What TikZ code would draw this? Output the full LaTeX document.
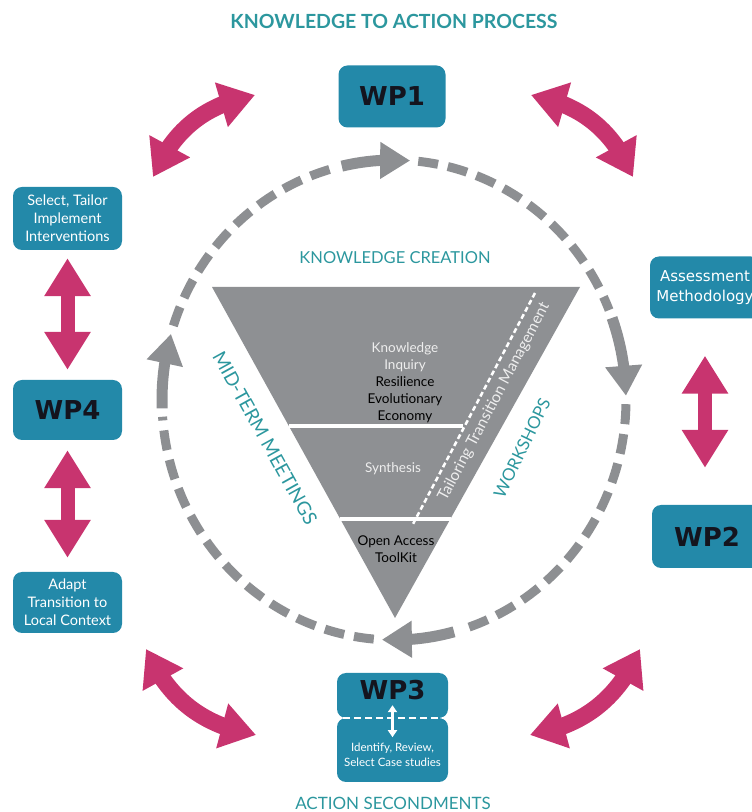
\documentclass[tikz,border=0pt]{standalone}
\usepackage{fontspec}
\setmainfont{Lato}
\newfontfamily\wpfont{DejaVu Sans}
\usetikzlibrary{arrows.meta,bending,calc}
\definecolor{boxteal}{HTML}{2389A9}
\definecolor{titleteal}{HTML}{2C979E}
\definecolor{mag}{HTML}{C8346F}
\definecolor{cgray}{HTML}{8D8F92}
\definecolor{tgray}{HTML}{8E9093}
\definecolor{wpdark}{HTML}{14141E}
\definecolor{lightw}{HTML}{EEEEEE}
\begin{document}
\begin{tikzpicture}[x=1pt,y=1pt,
  tealbox/.style={fill=boxteal, rounded corners=9pt, inner sep=0pt, align=center, text=white, font=\fontsize{14.5}{18}\selectfont},
  wplabel/.style={font=\wpfont\bfseries\fontsize{26}{26}\selectfont, text=wpdark},
  magarrow/.style={draw=mag, line width=17pt, {Triangle[width=44pt,length=35pt]}-{Triangle[width=44pt,length=35pt]}},
  vertarrow/.style={draw=mag, line width=14pt, {Triangle[width=44pt,length=38pt]}-{Triangle[width=44pt,length=38pt]}},
  cyclearrow/.style={draw=cgray, line width=11pt, -{Triangle[width=35pt,length=30pt]}},
  cycledash/.style={draw=cgray, line width=9pt, dash pattern=on 20pt off 10pt},
  tealtext/.style={text=titleteal, font=\fontsize{16.5}{16.5}\selectfont},
  tritext/.style={font=\fontsize{13.5}{17}\selectfont, align=center}
]
\useasboundingbox (0,0) rectangle (752,812);

% title and bottom caption
\node[text=titleteal, font=\bfseries\fontsize{19.5}{19.5}\selectfont] (title) at (394,791) {KNOWLEDGE TO ACTION PROCESS};
\node[text=titleteal, font=\fontsize{17}{17}\selectfont] (secon) at (393,9) {ACTION SECONDMENTS};

% gray cycle
\coordinate (C) at (394,412);
\draw[cycledash] ($(C)+(84:232 and 240)$) arc[start angle=84, end angle=22, x radius=232pt, y radius=240pt];
\draw[cycledash] ($(C)+(-1:232 and 240)$) arc[start angle=-1, end angle=-73, x radius=232pt, y radius=240pt];
\draw[cycledash] ($(C)+(265:232 and 240)$) arc[start angle=265, end angle=184, x radius=232pt, y radius=240pt];
\draw[cycledash] ($(C)+(162:232 and 240)$) arc[start angle=162, end angle=105, x radius=232pt, y radius=240pt];
\draw[cyclearrow] ($(C)+(103:232 and 240)$) arc[start angle=103, end angle=86, x radius=232pt, y radius=240pt];
\draw[cyclearrow] ($(C)+(20:232 and 240)$) arc[start angle=20, end angle=1, x radius=232pt, y radius=240pt];
\draw[cyclearrow] ($(C)+(285:232 and 240)$) arc[start angle=285, end angle=267, x radius=232pt, y radius=240pt];
\draw[cyclearrow] ($(C)+(182:232 and 240)$) arc[start angle=182, end angle=164, x radius=232pt, y radius=240pt];

% triangle
\coordinate (tA) at (212,525);
\coordinate (tB) at (580,525);
\coordinate (tC) at (395,194);
\fill[tgray] (tA) -- (tB) -- (tC) -- cycle;
\draw[white, line width=4pt] ($(tA)!0.42!(tC)$) -- ++(174,0) coordinate (l1end);
\draw[white, line width=4pt] ($(tA)!0.70!(tC)$) -- ($(tB)!0.70!(tC)$);
\coordinate (dtop) at (535,519);
\coordinate (dbot) at (413,288);
\draw[white, line width=2.5pt, dash pattern=on 5pt off 3pt] (dtop) -- (dbot);

\node[tritext, text=lightw] (kinq) at (405,455) {Knowledge\\Inquiry};
\node[tritext, text=black] (reev) at (405,412) {Resilience\\Evolutionary\\Economy};
\node[tritext, text=lightw] (synth) at (393,343) {Synthesis};
\node[tritext, text=black] (oat) at (396,263) {Open Access\\ToolKit};
\node[text=lightw, font=\fontsize{15.5}{15.5}\selectfont, rotate=62.2] (ttm) at (494,410) {Tailoring Transition Management};

\node[tealtext] (kc) at (395,554) {KNOWLEDGE CREATION};
\node[tealtext, font=\fontsize{19}{19}\selectfont, rotate=-61] (mtm) at (265,374) {MID-TERM MEETINGS};
\node[tealtext, font=\fontsize{17}{17}\selectfont, rotate=64] (ws) at (522,364) {WORKSHOPS};

% boxes
\node[tealbox, wplabel, minimum width=107pt, minimum height=62pt] (wp1) at (392,715.5) {WP1};
\node[tealbox, minimum width=109pt, minimum height=63pt] (sel) at (67.5,593.5) {Select, Tailor\\Implement\\Interventions};
\node[tealbox, wplabel, minimum width=109pt, minimum height=60pt] (wp4) at (67.5,402) {WP4};
\node[tealbox, minimum width=109pt, minimum height=61pt] (adapt) at (67.5,209.5) {Adapt\\Transition to\\Local Context};
\node[tealbox, minimum width=110pt, minimum height=62pt, font=\wpfont\fontsize{15}{20}\selectfont] (assess) at (705,524.5) {Assessment\\Methodology};
\node[tealbox, wplabel, minimum width=110pt, minimum height=63pt] (wp2) at (707,275.5) {WP2};
\node[tealbox, minimum width=111pt, minimum height=45pt] (wp3top) at (392.5,116.5) {};
\node[tealbox, minimum width=111pt, minimum height=64pt] (wp3bot) at (392.5,62) {};
\node[wplabel] (wp3lab) at (392.5,122) {WP3};
\node[text=white, align=center, font=\fontsize{11.5}{15}\selectfont] (wp3txt) at (392.5,57) {Identify, Review,\\Select Case studies};
\draw[white, line width=2pt, dash pattern=on 7pt off 4pt] ($(wp3top.south west)+(6,0)$) -- ($(wp3top.south east)+(-6,0)$);
\draw[white, line width=2.5pt, {Triangle[width=9pt,length=7pt]}-{Triangle[width=9pt,length=7pt]}] ($(wp3top.south)+(0,13)$) -- ($(wp3top.south)+(0,-19)$);

% vertical magenta arrows
\draw[vertarrow, shorten <=8pt, shorten >=10pt] (sel) -- (wp4);
\draw[vertarrow, shorten <=10pt, shorten >=14pt] (wp4) -- (adapt);
\draw[vertarrow, shorten <=37pt, shorten >=37pt] ($(assess.south)+(0,0)$) -- ($(wp2.north)+(-2,0)$);

% curved magenta arrows
\coordinate (mtl1) at (153,635);
\coordinate (mtl2) at (255,717);
\coordinate (mtr1) at (531,717);
\coordinate (mtr2) at (633,635);
\coordinate (mbl1) at (256,77);
\coordinate (mbl2) at (146,163);
\coordinate (mbr1) at (640,163);
\coordinate (mbr2) at (530,77);
\draw[magarrow] (mtl1) to[bend left=28] (mtl2);
\draw[magarrow] (mtr1) to[bend left=28] (mtr2);
\draw[magarrow] (mbl1) to[bend left=28] (mbl2);
\draw[magarrow] (mbr1) to[bend left=28] (mbr2);
\end{tikzpicture}
\end{document}
